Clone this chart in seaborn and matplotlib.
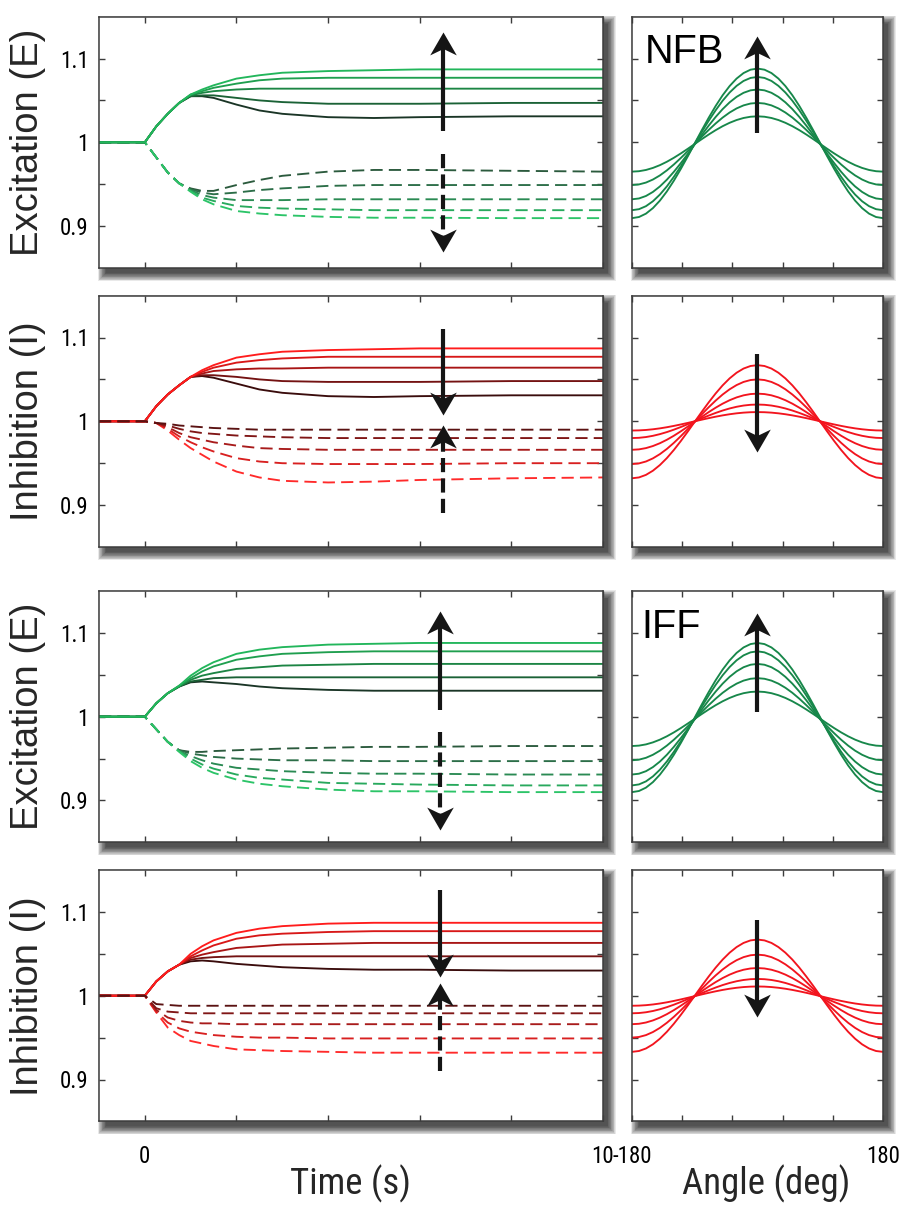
import numpy as np
import pandas as pd
import matplotlib
matplotlib.use("Agg")
import matplotlib.pyplot as plt
import seaborn as sns
from matplotlib import font_manager
from matplotlib.path import Path
from matplotlib.patches import Rectangle

# ------------------------------------------------------------------ data
TIME = [-1, 0, 0.25, 0.5, 0.75, 1, 1.25, 1.5, 2, 2.5, 3, 4, 5, 6, 8, 10]

# NFB, excitation: increased input (solid, bright->dark) / decreased input (dashed, dark->bright)
NFB_E_UP = [
    [1, 1, 1.019, 1.034, 1.047, 1.057, 1.063, 1.068, 1.076, 1.080, 1.083, 1.085, 1.086, 1.087, 1.087, 1.087],
    [1, 1, 1.019, 1.034, 1.047, 1.057, 1.061, 1.065, 1.070, 1.074, 1.076, 1.077, 1.077, 1.077, 1.077, 1.077],
    [1, 1, 1.019, 1.034, 1.047, 1.056, 1.059, 1.061, 1.063, 1.064, 1.064, 1.064, 1.064, 1.064, 1.064, 1.064],
    [1, 1, 1.019, 1.034, 1.047, 1.055, 1.056, 1.056, 1.053, 1.050, 1.048, 1.046, 1.046, 1.046, 1.047, 1.047],
    [1, 1, 1.019, 1.034, 1.047, 1.055, 1.055, 1.053, 1.045, 1.038, 1.034, 1.030, 1.029, 1.030, 1.031, 1.031],
]
NFB_E_DOWN = [
    [1, 1, 0.982, 0.964, 0.951, 0.945, 0.942, 0.942, 0.949, 0.955, 0.960, 0.965, 0.967, 0.967, 0.966, 0.965],
    [1, 1, 0.982, 0.964, 0.951, 0.944, 0.940, 0.938, 0.940, 0.943, 0.945, 0.948, 0.949, 0.949, 0.949, 0.949],
    [1, 1, 0.982, 0.964, 0.951, 0.943, 0.937, 0.934, 0.931, 0.931, 0.931, 0.932, 0.932, 0.932, 0.932, 0.932],
    [1, 1, 0.982, 0.964, 0.951, 0.942, 0.934, 0.930, 0.924, 0.922, 0.921, 0.920, 0.919, 0.919, 0.919, 0.919],
    [1, 1, 0.982, 0.964, 0.951, 0.941, 0.932, 0.926, 0.918, 0.915, 0.913, 0.911, 0.910, 0.910, 0.9095, 0.9095],
]
# NFB, inhibition
NFB_I_UP = [
    [1, 1, 1.018, 1.032, 1.043, 1.053, 1.061, 1.067, 1.076, 1.080, 1.083, 1.085, 1.086, 1.087, 1.087, 1.087],
    [1, 1, 1.018, 1.032, 1.043, 1.053, 1.059, 1.064, 1.070, 1.073, 1.075, 1.077, 1.077, 1.077, 1.077, 1.077],
    [1, 1, 1.018, 1.032, 1.043, 1.053, 1.057, 1.060, 1.062, 1.063, 1.063, 1.064, 1.064, 1.064, 1.064, 1.064],
    [1, 1, 1.018, 1.032, 1.043, 1.053, 1.055, 1.055, 1.053, 1.050, 1.048, 1.047, 1.047, 1.047, 1.048, 1.048],
    [1, 1, 1.018, 1.032, 1.043, 1.053, 1.054, 1.052, 1.045, 1.038, 1.034, 1.030, 1.029, 1.030, 1.031, 1.031],
]
NFB_I_DOWN = [
    [1, 1, 0.998, 0.997, 0.995, 0.994, 0.993, 0.992, 0.991, 0.990, 0.990, 0.990, 0.990, 0.990, 0.990, 0.990],
    [1, 1, 0.998, 0.995, 0.991, 0.988, 0.986, 0.985, 0.983, 0.982, 0.981, 0.980, 0.980, 0.980, 0.980, 0.980],
    [1, 1, 0.998, 0.993, 0.986, 0.981, 0.978, 0.975, 0.971, 0.968, 0.967, 0.966, 0.966, 0.966, 0.966, 0.966],
    [1, 1, 0.998, 0.991, 0.982, 0.975, 0.969, 0.964, 0.956, 0.952, 0.950, 0.949, 0.949, 0.949, 0.950, 0.950],
    [1, 1, 0.998, 0.989, 0.978, 0.968, 0.960, 0.952, 0.940, 0.933, 0.929, 0.927, 0.928, 0.930, 0.932, 0.933],
]
# IFF, excitation
IFF_E_UP = [
    [1, 1, 1.016, 1.028, 1.037, 1.049, 1.058, 1.065, 1.075, 1.080, 1.083, 1.086, 1.087, 1.088, 1.088, 1.088],
    [1, 1, 1.016, 1.028, 1.037, 1.046, 1.054, 1.060, 1.068, 1.072, 1.075, 1.077, 1.078, 1.078, 1.078, 1.078],
    [1, 1, 1.016, 1.028, 1.036, 1.044, 1.049, 1.052, 1.057, 1.059, 1.061, 1.062, 1.063, 1.063, 1.063, 1.063],
    [1, 1, 1.016, 1.028, 1.036, 1.042, 1.044, 1.046, 1.047, 1.047, 1.047, 1.047, 1.047, 1.047, 1.047, 1.047],
    [1, 1, 1.016, 1.028, 1.036, 1.041, 1.042, 1.041, 1.039, 1.036, 1.034, 1.032, 1.031, 1.031, 1.031, 1.031],
]
IFF_E_DOWN = [
    [1, 1, 0.985, 0.970, 0.960, 0.958, 0.958, 0.959, 0.960, 0.961, 0.962, 0.963, 0.964, 0.964, 0.965, 0.965],
    [1, 1, 0.985, 0.970, 0.960, 0.956, 0.954, 0.952, 0.950, 0.949, 0.948, 0.948, 0.947, 0.947, 0.947, 0.947],
    [1, 1, 0.985, 0.970, 0.959, 0.953, 0.948, 0.944, 0.939, 0.937, 0.935, 0.933, 0.932, 0.932, 0.931, 0.931],
    [1, 1, 0.985, 0.970, 0.959, 0.950, 0.943, 0.938, 0.931, 0.927, 0.925, 0.921, 0.920, 0.919, 0.918, 0.918],
    [1, 1, 0.985, 0.970, 0.958, 0.947, 0.939, 0.933, 0.925, 0.920, 0.917, 0.913, 0.911, 0.911, 0.910, 0.910],
]
# IFF, inhibition
IFF_I_UP = [
    [1, 1, 1.017, 1.029, 1.037, 1.050, 1.059, 1.066, 1.075, 1.080, 1.083, 1.086, 1.087, 1.087, 1.087, 1.087],
    [1, 1, 1.017, 1.029, 1.037, 1.047, 1.054, 1.060, 1.068, 1.072, 1.074, 1.076, 1.077, 1.077, 1.077, 1.077],
    [1, 1, 1.017, 1.029, 1.037, 1.045, 1.049, 1.052, 1.057, 1.059, 1.061, 1.062, 1.063, 1.063, 1.063, 1.063],
    [1, 1, 1.017, 1.029, 1.037, 1.043, 1.045, 1.046, 1.047, 1.047, 1.047, 1.047, 1.047, 1.047, 1.047, 1.047],
    [1, 1, 1.017, 1.029, 1.037, 1.041, 1.042, 1.041, 1.038, 1.036, 1.034, 1.032, 1.031, 1.031, 1.030, 1.030],
]
IFF_I_DOWN = [
    [1, 1, 0.990, 0.989, 0.988, 0.988, 0.988, 0.988, 0.988, 0.988, 0.988, 0.988, 0.988, 0.988, 0.988, 0.988],
    [1, 1, 0.985, 0.981, 0.980, 0.979, 0.979, 0.979, 0.979, 0.979, 0.979, 0.979, 0.979, 0.979, 0.979, 0.979],
    [1, 1, 0.983, 0.974, 0.970, 0.968, 0.967, 0.967, 0.966, 0.966, 0.966, 0.966, 0.966, 0.966, 0.966, 0.966],
    [1, 1, 0.981, 0.968, 0.961, 0.957, 0.955, 0.953, 0.951, 0.950, 0.950, 0.949, 0.949, 0.949, 0.949, 0.949],
    [1, 1, 0.980, 0.962, 0.953, 0.946, 0.943, 0.940, 0.936, 0.935, 0.934, 0.933, 0.932, 0.932, 0.932, 0.932],
]

# Tuning curves: angle grid, normalised shape (|angle| = 0..180 by 10 deg)
ANGLE = list(range(-180, 181, 10))
SHAPE_HALF = [1.0, 0.985, 0.94, 0.866, 0.766, 0.643, 0.5, 0.342, 0.174, 0.0,
              -0.174, -0.342, -0.5, -0.643, -0.766, -0.866, -0.94, -0.985, -1.0]
NFB_E_PEAK = [1.088, 1.078, 1.063, 1.047, 1.031]
NFB_E_TROUGH = [0.9095, 0.919, 0.932, 0.949, 0.965]
NFB_I_PEAK = [1.067, 1.050, 1.033, 1.020, 1.011]
NFB_I_TROUGH = [0.932, 0.949, 0.966, 0.980, 0.989]
IFF_E_PEAK = [1.088, 1.078, 1.063, 1.046, 1.030]
IFF_E_TROUGH = [0.910, 0.918, 0.931, 0.948, 0.965]
IFF_I_PEAK = [1.067, 1.049, 1.033, 1.020, 1.011]
IFF_I_TROUGH = [0.933, 0.950, 0.966, 0.979, 0.988]

YTICKS = [0.9, 0.95, 1.0, 1.05, 1.1]
YTICKLABELS = ["0.9", "", "1", "", "1.1"]
TTICKS = [0, 2, 4, 6, 8, 10]
TTICKLABELS = ["0", "", "", "", "", "10"]
ATICKS = [-180, -108, -36, 36, 108, 180]
ATICKLABELS = ["-180", "", "", "", "", "180"]

# ------------------------------------------------------------------ style
sns.set_theme(style="white")
plt.rcParams["font.family"] = ["Liberation Sans", "DejaVu Sans"]

_names = {f.name for f in font_manager.fontManager.ttflist}
_cond = None
for cand in ["Liberation Sans Narrow", "Roboto Condensed", "Open Sans Condensed",
             "DejaVu Sans Condensed"]:
    if cand in _names:
        _cond = cand
        break
if _cond is not None:
    COND = [_cond, "Liberation Sans", "DejaVu Sans"]
    TICK_FS, XLAB_FS = 16.5, 26.5
else:
    COND = ["Liberation Sans", "DejaVu Sans"]
    TICK_FS, XLAB_FS = 14, 23

GREEN_UP = ["#22b65b", "#1f9f4f", "#1c8544", "#1b6236", "#1a3526"]
GREEN_DOWN = ["#2b5a3d", "#2c6e48", "#2a8a53", "#28a95d", "#2cc468"]
RED_UP = ["#ff1c1c", "#d81818", "#a81515", "#741212", "#3a0c0c"]
RED_DOWN = ["#5a1212", "#801616", "#a81b1b", "#d82020", "#ff2a2a"]
GREEN_TUNE = "#17874a"
RED_TUNE = "#f2141e"
ARROW_C = "#151515"
FRAME_C = "#3c3c3c"

W, H = 904, 1206
fig = plt.figure(figsize=(W / 100, H / 100), dpi=100)
fig.patch.set_facecolor("white")

LEFT_X = (99, 603)
RIGHT_X = (632, 883)
ROWS = [(16.6, 268.0), (295.6, 547.0), (591.0, 842.4), (870.0, 1121.4)]


def add_shadow(x0, x1, top, bottom, off=6, n=12, spread=9.0):
    for i in range(n):
        e = spread * (n - i) / n - 2.0
        r = Rectangle(((x0 + off - e) / W, 1 - (bottom + off + e) / H),
                      (x1 - x0 + 2 * e) / W, (bottom - top + 2 * e) / H,
                      transform=fig.transFigure, facecolor="black", edgecolor="none",
                      alpha=0.085, zorder=-5)
        fig.add_artist(r)


def make_axes(xr, yr):
    x0, x1 = xr
    top, bottom = yr
    add_shadow(x0, x1, top, bottom)
    ax = fig.add_axes([x0 / W, 1 - bottom / H, (x1 - x0) / W, (bottom - top) / H])
    ax.set_facecolor("white")
    for s in ax.spines.values():
        s.set_visible(True)
        s.set_color(FRAME_C)
        s.set_linewidth(1.1)
    return ax


def style_ticks(ax, bottom_labels):
    ax.tick_params(direction="in", length=4, width=1.0, color=FRAME_C,
                   top=True, right=True, bottom=True, left=True,
                   labelcolor="black", labelsize=TICK_FS)
    ax.tick_params(axis="y", pad=7.5)
    ax.tick_params(axis="x", pad=17 if bottom_labels else 4)
    for lab in ax.get_xticklabels() + ax.get_yticklabels():
        lab.set_fontfamily(COND)


def long_df(up, down):
    rows = []
    for i, vals in enumerate(up):
        for t, v in zip(TIME, vals):
            rows.append((t, v, f"u{i}", "up"))
    for i, vals in enumerate(down):
        for t, v in zip(TIME, vals):
            rows.append((t, v, f"d{i}", "down"))
    return pd.DataFrame(rows, columns=["t", "v", "curve", "kind"])


def tune_df(peaks, troughs):
    shape = SHAPE_HALF[::-1] + SHAPE_HALF[1:]
    rows = []
    for i, (p, q) in enumerate(zip(peaks, troughs)):
        mid, half = (p + q) / 2, (p - q) / 2
        for a, s in zip(ANGLE, shape):
            rows.append((a, mid + half * s, i))
    return pd.DataFrame(rows, columns=["angle", "v", "curve"])


HEAD_UP = Path([(0, 0), (-0.58, -1.0), (0, -0.72), (0.58, -1.0), (0, 0)],
               [Path.MOVETO, Path.LINETO, Path.LINETO, Path.LINETO, Path.CLOSEPOLY])
HEAD_DOWN = Path([(0, 0), (-0.58, 1.0), (0, 0.72), (0.58, 1.0), (0, 0)],
                 [Path.MOVETO, Path.LINETO, Path.LINETO, Path.LINETO, Path.CLOSEPOLY])


def arrow(ax, x, y0, y1, dashed=False):
    up = y1 > y0
    shaft_end = y1 - 0.018 if up else y1 + 0.018
    ls = (0, (3.4, 1.5)) if dashed else "-"
    ax.plot([x, x], [y0, shaft_end], color=ARROW_C, lw=3.0, ls=ls,
            solid_capstyle="butt", dash_capstyle="butt", zorder=10)
    ax.plot([x], [y1], marker=HEAD_UP if up else HEAD_DOWN, markersize=33,
            color=ARROW_C, markeredgewidth=0, zorder=11)


PANELS = [
    dict(up=NFB_E_UP, down=NFB_E_DOWN, cu=GREEN_UP, cd=GREEN_DOWN, solid_last=True,
         peak=NFB_E_PEAK, trough=NFB_E_TROUGH, tc=GREEN_TUNE, ylab="Excitation (E)",
         arrows=[(6.5, 1.013, 1.132, False), (6.5, 0.986, 0.869, True)],
         tarrow=(0, 1.011, 1.127), tag="NFB", tagpos=(0.052, 0.935)),
    dict(up=NFB_I_UP, down=NFB_I_DOWN, cu=RED_UP, cd=RED_DOWN, solid_last=False,
         peak=NFB_I_PEAK, trough=NFB_I_TROUGH, tc=RED_TUNE, ylab="Inhibition (I)",
         arrows=[(6.5, 1.110, 1.007, False), (6.5, 0.891, 0.995, True)],
         tarrow=(0, 1.080, 0.963), tag=None, tagpos=None),
    dict(up=IFF_E_UP, down=IFF_E_DOWN, cu=GREEN_UP, cd=GREEN_DOWN, solid_last=True,
         peak=IFF_E_PEAK, trough=IFF_E_TROUGH, tc=GREEN_TUNE, ylab="Excitation (E)",
         arrows=[(6.45, 1.008, 1.126, False), (6.45, 0.982, 0.865, True)],
         tarrow=(0, 1.006, 1.124), tag="IFF", tagpos=(0.036, 0.932)),
    dict(up=IFF_I_UP, down=IFF_I_DOWN, cu=RED_UP, cd=RED_DOWN, solid_last=False,
         peak=IFF_I_PEAK, trough=IFF_I_TROUGH, tc=RED_TUNE, ylab="Inhibition (I)",
         arrows=[(6.45, 1.126, 1.022, False), (6.45, 0.910, 1.015, True)],
         tarrow=(0, 1.090, 0.975), tag=None, tagpos=None),
]

XLAB_BASE_Y = -(1194 - 1121.4) / 251.4

for r, P in enumerate(PANELS):
    last = r == len(PANELS) - 1
    # ---------------- time course
    ax = make_axes(LEFT_X, ROWS[r])
    df = long_df(P["up"], P["down"])
    up_names = [f"u{i}" for i in range(5)]
    dn_names = [f"d{i}" for i in range(5)]
    pal = {n: c for n, c in zip(up_names, P["cu"])}
    pal.update({n: c for n, c in zip(dn_names, P["cd"])})
    if P["solid_last"]:
        order = dn_names + up_names[::-1]
    else:
        order = up_names[::-1] + dn_names[::-1]
    sns.lineplot(data=df, x="t", y="v", hue="curve", style="kind", hue_order=order,
                 palette=pal, dashes={"up": "", "down": (6.5, 3.3)}, lw=1.35,
                 estimator=None, sort=False, errorbar=None, legend=False, ax=ax)
    ax.set_xlim(-1, 10)
    ax.set_ylim(0.85, 1.15)
    ax.set_xticks(TTICKS)
    ax.set_yticks(YTICKS)
    ax.set_yticklabels(YTICKLABELS, fontsize=TICK_FS)
    for (x, y0, y1, d) in P["arrows"]:
        arrow(ax, x, y0, y1, dashed=d)
    ax.set_ylabel(P["ylab"], fontsize=27.5, va="center")
    ax.yaxis.set_label_coords(-0.141, 0.5)
    if last:
        ax.set_xticklabels(TTICKLABELS, fontsize=TICK_FS)
        ax.set_xlabel("Time (s)", fontsize=XLAB_FS, va="baseline", fontfamily=COND)
        ax.xaxis.set_label_coords(0.5, XLAB_BASE_Y)
    else:
        ax.set_xticklabels([])
        ax.set_xlabel("")
    style_ticks(ax, last)

    # ---------------- tuning
    ax2 = make_axes(RIGHT_X, ROWS[r])
    tdf = tune_df(P["peak"], P["trough"])
    sns.lineplot(data=tdf, x="angle", y="v", units="curve", estimator=None, sort=False,
                 color=P["tc"], lw=1.35, errorbar=None, legend=False, ax=ax2)
    ax2.set_xlim(-180, 180)
    ax2.set_ylim(0.85, 1.15)
    ax2.set_xticks(ATICKS)
    ax2.set_yticks(YTICKS)
    ax2.set_yticklabels([])
    ax2.set_ylabel("")
    x, y0, y1 = P["tarrow"]
    arrow(ax2, x, y0, y1)
    if P["tag"]:
        ax2.text(P["tagpos"][0], P["tagpos"][1], P["tag"], transform=ax2.transAxes,
                 ha="left", va="top", fontsize=28.5, color="black")
    if last:
        ax2.set_xticklabels(ATICKLABELS, fontsize=TICK_FS)
        ax2.set_xlabel("Angle (deg)", fontsize=XLAB_FS, va="baseline", fontfamily=COND)
        ax2.xaxis.set_label_coords(0.535, XLAB_BASE_Y)
    else:
        ax2.set_xticklabels([])
        ax2.set_xlabel("")
    style_ticks(ax2, last)

fig.savefig("out.png", dpi=100, facecolor="white")
